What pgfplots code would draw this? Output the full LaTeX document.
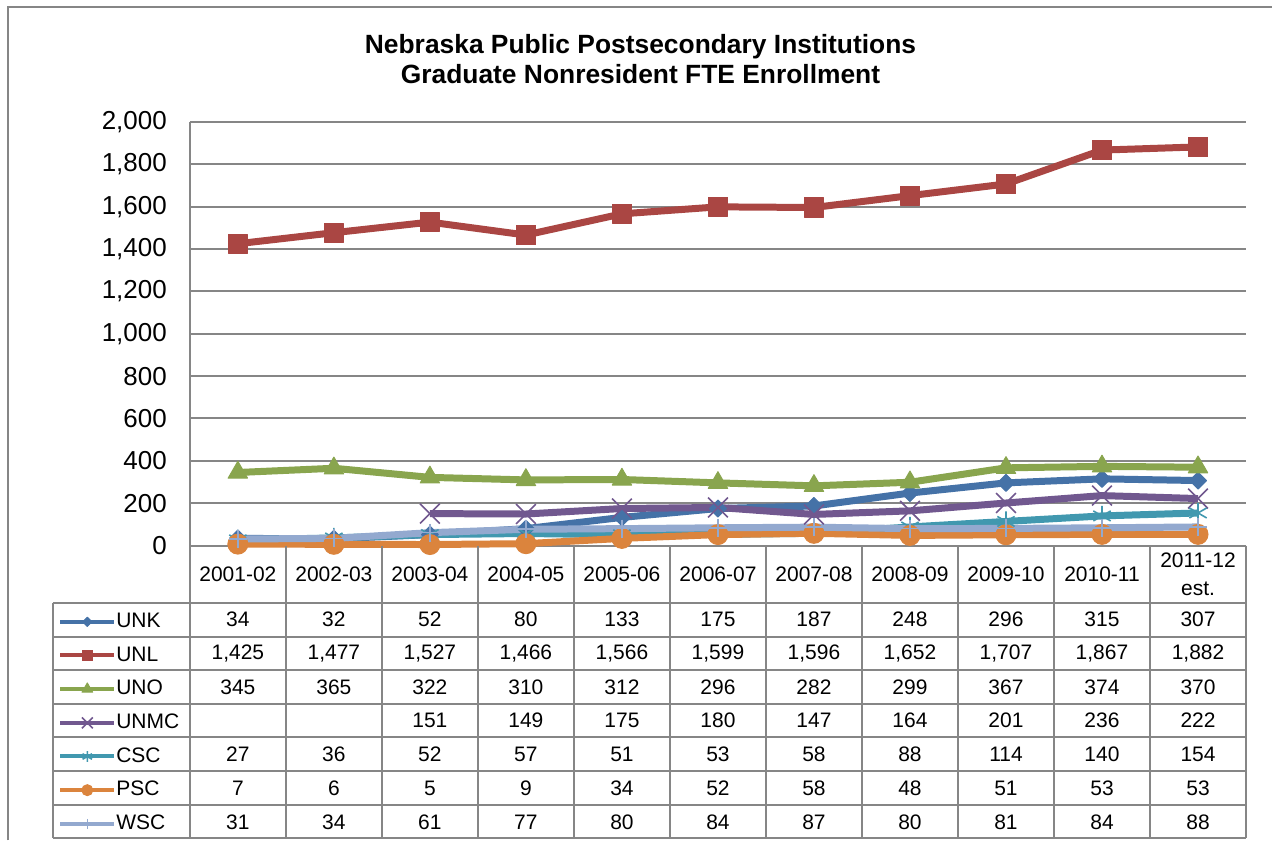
\documentclass[border=0pt]{standalone}
\usepackage{pgfplots}
\pgfplotsset{compat=1.18}
\usepackage{pgfplotstable}
\usepackage{fontspec}
\setmainfont{Liberation Sans}

\definecolor{cUNK}{RGB}{69,114,167}
\definecolor{cUNL}{RGB}{170,70,67}
\definecolor{cUNO}{RGB}{137,165,78}
\definecolor{cUNMC}{RGB}{113,88,143}
\definecolor{cCSC}{RGB}{65,152,175}
\definecolor{cPSC}{RGB}{219,132,61}
\definecolor{cWSC}{RGB}{147,169,207}
\definecolor{gridc}{RGB}{134,134,134}

% graduate nonresident FTE, 2001-02 .. 2011-12 est.
\pgfplotstableread{
x UNK UNL UNO UNMC CSC PSC WSC
0 34 1425 345 nan 27 7 31
1 32 1477 365 nan 36 6 34
2 52 1527 322 151 52 5 61
3 80 1466 310 149 57 9 77
4 133 1566 312 175 51 34 80
5 175 1599 296 180 53 52 84
6 187 1596 282 147 58 58 87
7 248 1652 299 164 88 48 80
8 296 1707 367 201 114 51 81
9 315 1867 374 236 140 53 84
10 307 1882 370 222 154 53 88
}\enroll

\newcommand\tabrow[2]{%
  \foreach \v [count=\k from 0] in {#2}
    \node[font=\fontsize{10.5}{12}\selectfont] at ({190+(\k+0.5)*96.09},#1) {\v};}

\begin{document}
\begin{tikzpicture}
\begin{axis}[
  at={(95pt,-273pt)}, anchor=south west,
  scale only axis, width=528.5pt, height=212pt,
  xmin=-0.5, xmax=10.5, ymin=0, ymax=2000,
  xtick=\empty, ytick={0,200,...,2000},
  axis x line=bottom, axis y line=left,
  axis line style={gridc, line width=1pt, -},
  ymajorgrids, grid style={gridc, line width=1pt},
  major tick length=0pt,
  yticklabel style={font=\fontsize{13}{15}\selectfont, anchor=east, xshift=-8pt},
  /pgf/number format/.cd, 1000 sep={,}, assume math mode=true, /pgfplots/.cd,
  clip=false,
  unbounded coords=jump,
  every axis plot/.append style={line width=3.5pt, line join=round},
  legend style={at={(-0.1249,-0.1392)}, anchor=north west, draw=none, fill=none,
    font=\fontsize{10.5}{12}\selectfont, row sep=0pt, inner sep=0pt,
    nodes={inner sep=0pt, minimum height=16.85pt}},
  legend cell align=left,
  legend image code/.code={\draw[mark repeat=2,mark phase=2,#1,line width=2pt,
      every mark/.append style={scale=0.55}]
    plot coordinates {(0pt,0pt) (13.5pt,0pt) (27pt,0pt)};},
]
\addplot[cUNK, mark=square*, mark size=3pt, mark options={rotate=45, line width=0.5pt}]
  table[x=x, y=UNK] {\enroll};
\addplot[cUNL, mark=square*, mark size=4.8pt, mark options={line width=0.5pt}]
  table[x=x, y=UNL] {\enroll};
\addplot[cUNO, mark=triangle*, mark size=5.6pt, mark options={line width=0.5pt}]
  table[x=x, y=UNO] {\enroll};
\addplot[cUNMC, mark=x, mark size=7pt, mark options={line width=0.8pt}]
  table[x=x, y=UNMC] {\enroll};
\addplot[cCSC, mark=asterisk, mark size=5pt, mark options={line width=0.8pt}]
  table[x=x, y=CSC] {\enroll};
\addplot[cPSC, mark=*, mark size=5pt, mark options={line width=0.5pt}]
  table[x=x, y=PSC] {\enroll};
\addplot[cWSC, mark=+, mark size=4.5pt, mark options={line width=0.8pt}]
  table[x=x, y=WSC] {\enroll};
\legend{UNK,UNL,UNO,UNMC,CSC,PSC,WSC}
\end{axis}

\begin{scope}[x=0.5pt, y=-0.5pt]
  \path (0,0) rectangle (1273,841);
  \draw[gridc, line width=1pt] (8,841) -- (8,7) -- (1273,7);
  \node[font=\bfseries\fontsize{13.2}{15}\selectfont, align=center] at (641,59)
    {Nebraska Public Postsecondary Institutions\\Graduate Nonresident FTE Enrollment};
  % data table grid
  \foreach \yy in {603,637,671,704.5,738,772,806,839}
    \draw[gridc, line width=1pt] (53,\yy) -- (1247,\yy);
  \draw[gridc, line width=1pt] (53,603) -- (53,839);
  \foreach \k in {0,...,11}
    \draw[gridc, line width=1pt] ({190+\k*96.09},546) -- ({190+\k*96.09},839);
  \foreach \lab [count=\k from 0] in {2001-02,2002-03,2003-04,2004-05,2005-06,2006-07,2007-08,2008-09,2009-10,2010-11}
    \node[font=\fontsize{10.5}{12}\selectfont] at ({190+(\k+0.5)*96.09},575) {\lab};
  \node[font=\fontsize{10.5}{14}\selectfont, align=center] at ({190+10.5*96.09},575) {2011-12\\est.};
  \tabrow{620}{34,32,52,80,133,175,187,248,296,315,307}
  \tabrow{654}{{1,425},{1,477},{1,527},{1,466},{1,566},{1,599},{1,596},{1,652},{1,707},{1,867},{1,882}}
  \tabrow{687.5}{345,365,322,310,312,296,282,299,367,374,370}
  \tabrow{721}{{},{},151,149,175,180,147,164,201,236,222}
  \tabrow{755}{27,36,52,57,51,53,58,88,114,140,154}
  \tabrow{789}{7,6,5,9,34,52,58,48,51,53,53}
  \tabrow{822.5}{31,34,61,77,80,84,87,80,81,84,88}
\end{scope}
\end{tikzpicture}
\end{document}
